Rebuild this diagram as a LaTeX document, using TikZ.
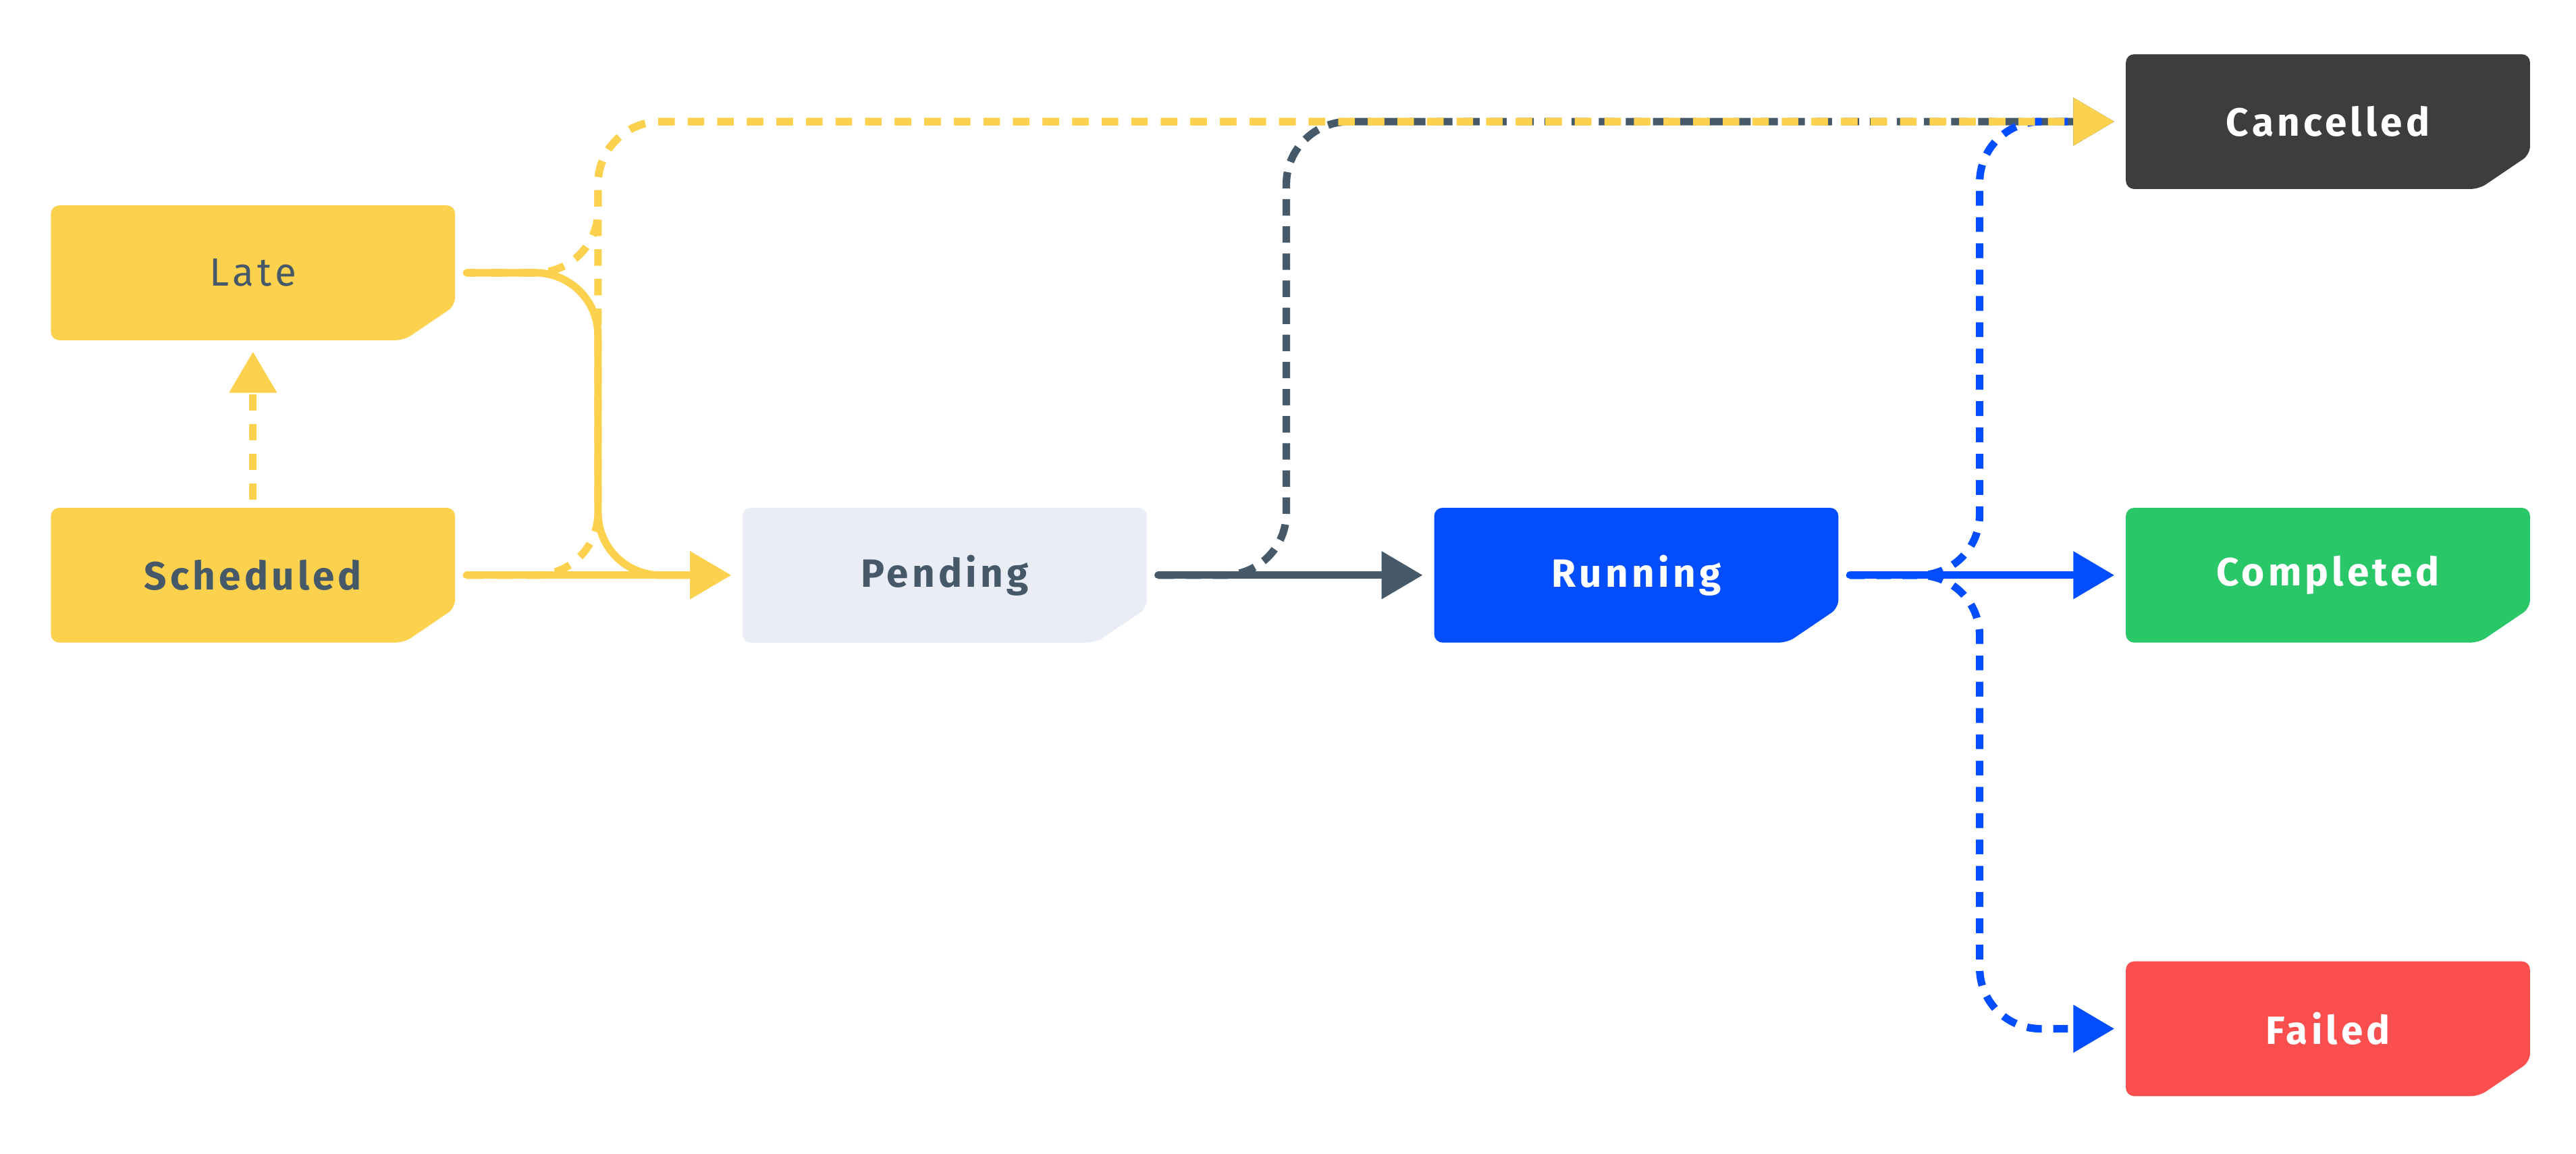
\documentclass[tikz,border=0pt]{standalone}
\usepackage{fontspec}
\setmainfont{Fira Sans}[LetterSpace=9]
\usetikzlibrary{arrows.meta}
\definecolor{pyellow}{HTML}{FCD14E}
\definecolor{pslate}{HTML}{465968}
\definecolor{ppend}{HTML}{EAECF6}
\definecolor{pblue}{HTML}{024DFD}
\definecolor{pdark}{HTML}{3D3D3D}
\definecolor{pgreen}{HTML}{2AC769}
\definecolor{pred}{HTML}{FB4E4E}
\begin{document}
\begin{tikzpicture}[x=1pt,y=-1pt,
  stbox/.style 2 args={minimum width=246pt, minimum height=82pt, inner sep=0pt, outer sep=0pt,
    fill=white, text=#2, font=\fontsize{24pt}{28pt}\selectfont\bfseries,
    path picture={\fill[#1, rounded corners=5pt]
      (path picture bounding box.north west) -- (path picture bounding box.north east)
      -- ([yshift=21pt]path picture bounding box.south east)
      -- ([xshift=-31pt]path picture bounding box.south east)
      -- (path picture bounding box.south west) -- cycle;}},
  lighttext/.style={font=\fontsize{24pt}{28pt}\selectfont},
  tip/.style={-{Triangle[length=25pt,width=28pt]}},
  ysolid/.style={pyellow, line width=4.6pt, line cap=round, tip},
  ssolid/.style={pslate, line width=4.6pt, line cap=round, tip},
  bsolid/.style={pblue, line width=4.6pt, line cap=round, tip},
  ydash/.style={pyellow, line width=4.6pt, dash pattern=on 10pt off 8pt, rounded corners=38pt, tip},
  sdash/.style={pslate, line width=4.6pt, dash pattern=on 10pt off 6.5pt, rounded corners=38pt, tip},
  bdash/.style={pblue, line width=4.6pt, dash pattern=on 9pt off 7pt, rounded corners=37pt, tip}
]
\fill[white] (0,0) rectangle (1568,702);
\useasboundingbox (0,0) rectangle (1568,702);

\node[stbox={pyellow}{pslate}, lighttext] (late) at (154,166) {Late};
\node[stbox={pyellow}{pslate}] (sched) at (154,350) {Scheduled};
\node[stbox={ppend}{pslate}] (pend) at (575,350) {Pending};
\node[stbox={pblue}{white}] (run) at (996,350) {Running};
\node[stbox={pdark}{white}] (cancel) at (1417,74) {Cancelled};
\node[stbox={pgreen}{white}] (comp) at (1417,350) {Completed};
\node[stbox={pred}{white}] (fail) at (1417,626) {Failed};

\coordinate (laneA) at (364,0);
\coordinate (laneB) at (783,0);
\coordinate (laneC) at (1205,0);

% grey dashed: Pending -> Cancelled
\draw[sdash] ([xshift=7pt]pend.east) -| (laneB |- cancel.west) -- ([xshift=-7pt]cancel.west);
% blue dashed: Running -> Cancelled / Failed
\draw[bdash] ([xshift=7pt]run.east) -| (laneC |- cancel.west) -- ([xshift=-7pt]cancel.west);
\draw[bdash] ([xshift=7pt]run.east) -| (laneC |- fail.west) -- ([xshift=-7pt]fail.west);
% solid connectors
\draw[bsolid] ([xshift=7pt]run.east) -- ([xshift=-7pt]comp.west);
\draw[ssolid] ([xshift=7pt]pend.east) -- ([xshift=-7pt]run.west);
\draw[ysolid] ([xshift=7pt]sched.east) -- ([xshift=-7pt]pend.west);
\draw[ysolid, rounded corners=38pt] ([xshift=7pt]late.east) -| (laneA |- pend.west) -- ([xshift=-7pt]pend.west);
% yellow dashed
\draw[ydash] ([yshift=5pt]sched.north) -- ([yshift=-7pt]late.south);
\draw[ydash] ([xshift=7pt]sched.east) -| (laneA |- cancel.west) -- ([xshift=-7pt]cancel.west);
\draw[ydash, dash phase=4pt] ([xshift=7pt]late.east) -| (laneA |- cancel.west) -- ([xshift=-7pt]cancel.west);
\end{tikzpicture}
\end{document}
